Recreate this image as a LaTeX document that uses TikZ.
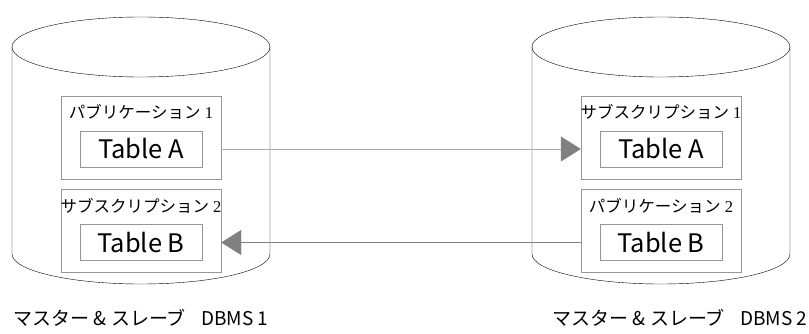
\documentclass[tikz,border=0pt]{standalone}
\usepackage{fontspec}
\setmainfont{Liberation Serif}
\newfontfamily\jpfont{Noto Sans CJK JP}
\usetikzlibrary{arrows.meta}
\definecolor{boxgray}{RGB}{150,150,150}
\definecolor{linegray}{RGB}{170,170,170}
\definecolor{darkline}{RGB}{128,128,128}
\definecolor{tipgray}{RGB}{128,128,128}

\tikzset{
    pubbox/.style={draw=boxgray, minimum width=160pt, minimum height=83pt, inner sep=0pt},
    tablebox/.style={draw=boxgray, minimum width=122pt, minimum height=36pt, inner sep=0pt,
        font=\jpfont\fontsize{25.5}{25.5}\selectfont},
    boxlabel/.style={inner sep=0pt, font=\fontsize{16.5}{16.5}\selectfont},
    dblabel/.style={inner sep=0pt, font=\jpfont\fontsize{19}{19}\selectfont},
    repl/.style={-{Triangle[length=20pt, width=25pt, color=tipgray]}},
}

\begin{document}
\begin{tikzpicture}[x=1pt, y=-1pt]
    \useasboundingbox (0,0) rectangle (809,334);

    % the two databases
    \foreach \dx in {0,520} {
        \draw ({141+\dx},47) ellipse [x radius=129, y radius=30];
        \draw ({12+\dx},47) -- ({12+\dx},254)
            arc [start angle=180, end angle=0, x radius=129, y radius=30]
            -- ({270+\dx},47);
    }

    % DBMS 1
    \node[pubbox](pub1)   at (141,137.5) {};
    \node[boxlabel](lpub1) at (141,112) {{\jpfont パブリケーション} 1};
    \node[tablebox](tA1)  at (141,149) {Table A};
    \node[pubbox](sub2)   at (141,231) {};
    \node[boxlabel](lsub2) at (141,206) {{\jpfont サブスクリプション} 2};
    \node[tablebox](tB1)  at (141,242.5) {Table B};

    % DBMS 2
    \node[pubbox](sub1)   at (661,137.5) {};
    \node[boxlabel](lsub1) at (661,112) {{\jpfont サブスクリプション} 1};
    \node[tablebox](tA2)  at (661,149) {Table A};
    \node[pubbox](pub2)   at (661,231) {};
    \node[boxlabel](lpub2) at (661,206) {{\jpfont パブリケーション} 2};
    \node[tablebox](tB2)  at (661,242.5) {Table B};

    \node[dblabel](db1) at (141,318) {マスター \& スレーブ\hspace{0.8em}DBMS 1};
    \node[dblabel](db2) at (680,318) {マスター \& スレーブ\hspace{0.8em}DBMS 2};

    \path
        (pub1.east |- tA1.center)
            edge [repl, draw=linegray] (sub1.west |- tA1.center)
        (pub2.west |- tB2.center)
            edge [repl, draw=darkline] (sub2.east |- tB2.center)
        ;
\end{tikzpicture}
\end{document}
